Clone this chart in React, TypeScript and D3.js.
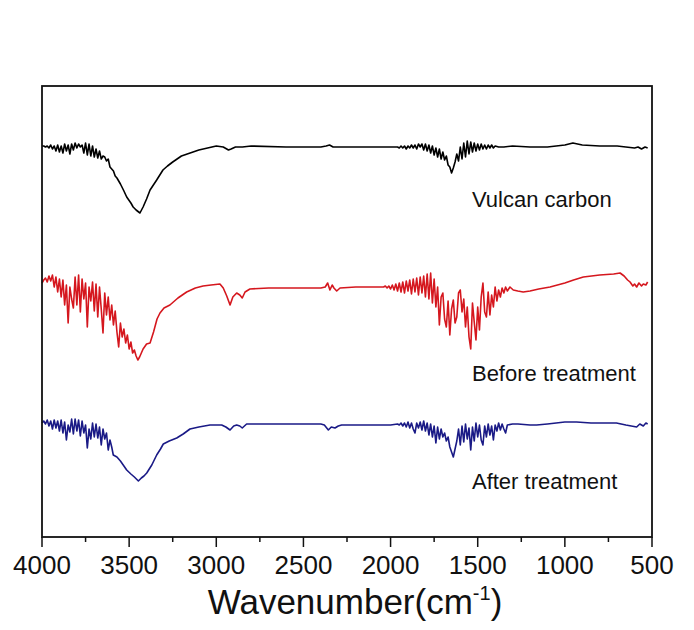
import React, { useEffect } from "react";
import * as d3 from "d3";

// FTIR spectra, values are offset transmittance in arbitrary units
const vulcanCarbon: [number, number][] = [
  [4000, 391], [3990, 391], [3980, 390], [3970, 391], [3960, 389], [3950, 392], [3940, 388],
  [3930, 391], [3920, 386], [3910, 392], [3900, 385], [3890, 391], [3880, 384], [3870, 393],
  [3860, 386], [3850, 392], [3840, 383], [3830, 393], [3820, 387], [3810, 394], [3800, 389],
  [3790, 393], [3780, 390], [3770, 392], [3760, 384], [3750, 394], [3740, 382], [3730, 393],
  [3720, 381], [3710, 391], [3700, 380], [3690, 388], [3680, 379], [3670, 386], [3660, 378],
  [3650, 381], [3640, 380], [3630, 376], [3620, 378], [3610, 370], [3600, 368], [3590, 366],
  [3580, 361], [3570, 359], [3550, 353], [3530, 346], [3514, 340], [3490, 334], [3477, 330],
  [3460, 327], [3438, 324], [3420, 330], [3400, 338], [3380, 347], [3342, 357], [3306, 367],
  [3280, 371], [3250, 375], [3200, 381], [3150, 384], [3100, 387], [3050, 389], [3000, 391],
  [2960, 390], [2930, 387], [2915, 388], [2890, 390], [2850, 390], [2800, 391], [2600, 390],
  [2400, 390], [2370, 391], [2350, 392], [2330, 390], [2200, 390], [2000, 390],
  [1960, 390], [1950, 389], [1940, 391], [1930, 389], [1920, 391], [1910, 388], [1900, 391],
  [1890, 389], [1880, 392], [1870, 389], [1860, 392], [1850, 388], [1840, 393], [1830, 390],
  [1820, 393], [1810, 387], [1800, 393], [1790, 386], [1780, 392], [1770, 384], [1760, 391],
  [1750, 382], [1740, 389], [1730, 380], [1720, 388], [1710, 378], [1700, 385], [1690, 377],
  [1680, 381], [1670, 372], [1660, 370], [1650, 364], [1640, 369], [1630, 375], [1620, 383],
  [1610, 376], [1600, 390], [1590, 378], [1580, 394], [1570, 380], [1560, 396], [1550, 383],
  [1540, 395], [1530, 385], [1520, 394], [1510, 386], [1500, 393], [1490, 387], [1480, 393],
  [1470, 388], [1460, 392], [1450, 388], [1440, 392], [1430, 389], [1420, 392], [1410, 389],
  [1400, 391], [1380, 390], [1350, 390], [1300, 391], [1200, 390], [1100, 390], [1000, 392],
  [954, 394], [900, 392], [800, 391], [700, 391], [650, 390], [600, 389], [580, 390],
  [560, 388], [540, 390], [525, 389],
];

const beforeTreatment: [number, number][] = [
  [4000, 254], [3990, 257], [3980, 259], [3970, 255], [3960, 261], [3950, 256], [3940, 262],
  [3930, 250], [3920, 260], [3910, 245], [3900, 258], [3890, 240], [3880, 257], [3870, 232],
  [3860, 252], [3850, 214], [3840, 250], [3830, 238], [3820, 229], [3810, 260], [3800, 232],
  [3790, 262], [3780, 225], [3770, 258], [3760, 238], [3750, 254], [3740, 210], [3730, 250],
  [3720, 236], [3710, 255], [3700, 226], [3690, 253], [3680, 220], [3670, 250], [3660, 228],
  [3650, 204], [3640, 244], [3630, 222], [3620, 240], [3610, 217], [3600, 232], [3590, 212],
  [3580, 226], [3570, 205], [3560, 190], [3550, 214], [3540, 200], [3530, 208], [3520, 194],
  [3510, 202], [3500, 188], [3490, 195], [3480, 184], [3470, 187], [3460, 181], [3450, 177],
  [3440, 180], [3430, 184], [3420, 188], [3400, 193], [3380, 194], [3360, 205], [3340, 218],
  [3323, 224], [3300, 229], [3266, 232], [3220, 239], [3170, 245], [3120, 249], [3076, 251],
  [3030, 252], [2979, 253], [2960, 249], [2940, 241], [2921, 232], [2905, 240], [2883, 244],
  [2865, 242], [2851, 239], [2835, 245], [2807, 248], [2700, 249], [2500, 249], [2400, 249],
  [2375, 250], [2361, 254], [2348, 247], [2335, 252], [2325, 249], [2309, 246], [2290, 249],
  [2200, 250], [2100, 250], [2040, 250], [2030, 251], [2020, 249], [2010, 251], [2000, 248],
  [1990, 252], [1980, 247], [1970, 253], [1960, 246], [1950, 254], [1940, 245], [1930, 255],
  [1920, 244], [1910, 256], [1900, 246], [1890, 257], [1880, 243], [1870, 258], [1860, 245],
  [1850, 259], [1840, 242], [1830, 260], [1820, 244], [1810, 261], [1800, 240], [1790, 263],
  [1780, 238], [1770, 264], [1760, 234], [1750, 258], [1740, 230], [1730, 250], [1720, 212],
  [1710, 240], [1700, 244], [1690, 218], [1680, 210], [1670, 236], [1660, 202], [1650, 228],
  [1640, 237], [1630, 214], [1620, 220], [1610, 244], [1600, 247], [1590, 225], [1580, 238],
  [1570, 210], [1560, 230], [1550, 200], [1540, 188], [1530, 234], [1520, 215], [1510, 197],
  [1500, 230], [1490, 207], [1480, 240], [1470, 254], [1460, 225], [1450, 220], [1440, 245],
  [1430, 222], [1420, 242], [1410, 230], [1400, 250], [1390, 236], [1380, 247], [1370, 240],
  [1360, 249], [1350, 244], [1340, 250], [1330, 246], [1315, 250], [1296, 247], [1270, 246],
  [1239, 245], [1200, 246], [1150, 248], [1085, 250], [1000, 254], [950, 257], [894, 260],
  [800, 262], [720, 263], [683, 264], [660, 261], [640, 257], [626, 255], [610, 251],
  [600, 253], [588, 250], [575, 254], [560, 251], [550, 253], [535, 252], [525, 255],
];

const afterTreatment: [number, number][] = [
  [4000, 114], [3990, 116], [3980, 113], [3970, 117], [3960, 111], [3950, 116], [3940, 108],
  [3930, 117], [3920, 109], [3910, 116], [3900, 106], [3890, 117], [3880, 104], [3870, 115],
  [3860, 97], [3850, 112], [3840, 105], [3830, 118], [3820, 103], [3810, 118], [3800, 106],
  [3790, 117], [3780, 101], [3770, 116], [3760, 104], [3750, 112], [3740, 89], [3730, 108],
  [3720, 98], [3710, 114], [3700, 100], [3690, 113], [3680, 99], [3670, 110], [3660, 92],
  [3650, 108], [3640, 98], [3630, 104], [3620, 87], [3610, 97], [3600, 90], [3591, 82],
  [3570, 80], [3550, 76], [3530, 71], [3514, 67], [3490, 63], [3470, 60], [3447, 56],
  [3430, 59], [3415, 61], [3399, 64], [3370, 72], [3342, 82], [3320, 88], [3304, 93],
  [3270, 96], [3227, 99], [3190, 103], [3151, 108], [3100, 110], [3036, 112], [2969, 112],
  [2945, 110], [2921, 107], [2900, 111], [2883, 112], [2865, 111], [2851, 109], [2826, 113],
  [2700, 113], [2500, 113], [2400, 113], [2380, 112], [2357, 107], [2340, 110], [2319, 109],
  [2300, 111], [2281, 112], [2200, 112], [2000, 112], [1960, 113], [1950, 112], [1940, 114],
  [1930, 111], [1920, 114], [1910, 110], [1900, 115], [1890, 109], [1880, 114], [1870, 108],
  [1860, 104], [1850, 114], [1840, 109], [1830, 115], [1820, 107], [1810, 116], [1800, 106],
  [1790, 114], [1780, 102], [1770, 113], [1760, 100], [1750, 111], [1740, 94], [1730, 110],
  [1720, 98], [1710, 108], [1700, 100], [1690, 104], [1680, 96], [1670, 100], [1660, 90],
  [1650, 85], [1640, 80], [1630, 88], [1620, 96], [1610, 108], [1600, 92], [1590, 111],
  [1580, 95], [1570, 113], [1560, 98], [1550, 109], [1540, 87], [1530, 110], [1520, 96],
  [1510, 114], [1500, 100], [1490, 112], [1480, 97], [1470, 92], [1460, 111], [1450, 100],
  [1440, 113], [1430, 102], [1420, 111], [1410, 97], [1400, 112], [1390, 106], [1380, 114],
  [1370, 107], [1360, 113], [1350, 108], [1340, 104], [1330, 112], [1300, 113], [1269, 113],
  [1200, 112], [1162, 112], [1100, 113], [1000, 115], [933, 115], [850, 114], [780, 114],
  [704, 114], [650, 112], [588, 110], [570, 113], [550, 111], [535, 114], [525, 113],
];

const seriesNames = ["Vulcan carbon", "Before treatment", "After treatment"];
const seriesColors = ["#000000", "#d5171e", "#1a1a86"];
const labelY = [330, 156, 48]; // label baselines in data units
const majorTicks = [4000, 3500, 3000, 2500, 2000, 1500, 1000, 500];
const minorTicks = [3750, 3250, 2750, 2250, 1750, 1250, 750];

const width = 694;
const height = 630;
const margin = { top: 86, right: 42, bottom: 93, left: 42 };

export default function App() {
  useEffect(() => {
    document.body.style.margin = "0";
  }, []);

  const x = d3
    .scaleLinear()
    .domain([4000, 500])
    .range([margin.left, width - margin.right]);
  const y = d3
    .scaleLinear()
    .domain([0, 451])
    .range([height - margin.bottom, margin.top]);

  const line = d3
    .line<[number, number]>()
    .x((d) => x(d[0]))
    .y((d) => y(d[1]));

  const allSeries = [vulcanCarbon, beforeTreatment, afterTreatment];
  const x0 = margin.left;
  const x1 = width - margin.right;
  const y0 = margin.top;
  const y1 = height - margin.bottom;

  return (
    <svg width={width} height={height} style={{ display: "block", background: "#fff" }}>
      {allSeries.map((s, i) => (
        <path
          key={seriesNames[i]}
          d={line(s) || ""}
          fill="none"
          stroke={seriesColors[i]}
          strokeWidth={1.6}
          strokeLinejoin="round"
        />
      ))}
      <rect x={x0} y={y0} width={x1 - x0} height={y1 - y0} fill="none" stroke="#111" strokeWidth={1.8} />
      {majorTicks.map((t) => (
        <g key={t}>
          <line x1={x(t)} x2={x(t)} y1={y1} y2={y1 + 10} stroke="#111" strokeWidth={1.5} />
          <text
            x={x(t)}
            y={y1 + 37}
            textAnchor="middle"
            fontFamily="Arial, 'Liberation Sans', sans-serif"
            fontSize={26}
            fill="#111"
          >
            {t}
          </text>
        </g>
      ))}
      {minorTicks.map((t) => (
        <line key={t} x1={x(t)} x2={x(t)} y1={y1} y2={y1 + 5} stroke="#111" strokeWidth={1.5} />
      ))}
      {seriesNames.map((name, i) => (
        <text
          key={name}
          x={x(1533)}
          y={y(labelY[i])}
          fontFamily="Arial, 'Liberation Sans', sans-serif"
          fontSize={22}
          fill="#111"
        >
          {name}
        </text>
      ))}
      <text
        x={(x0 + x1) / 2 + 8}
        y={614}
        textAnchor="middle"
        fontFamily="Arial, 'Liberation Sans', sans-serif"
        fontSize={35}
        fill="#111"
      >
        Wavenumber(cm
        <tspan fontSize={20} dy={-14}>-1</tspan>
        <tspan dy={14}>)</tspan>
      </text>
    </svg>
  );
}
